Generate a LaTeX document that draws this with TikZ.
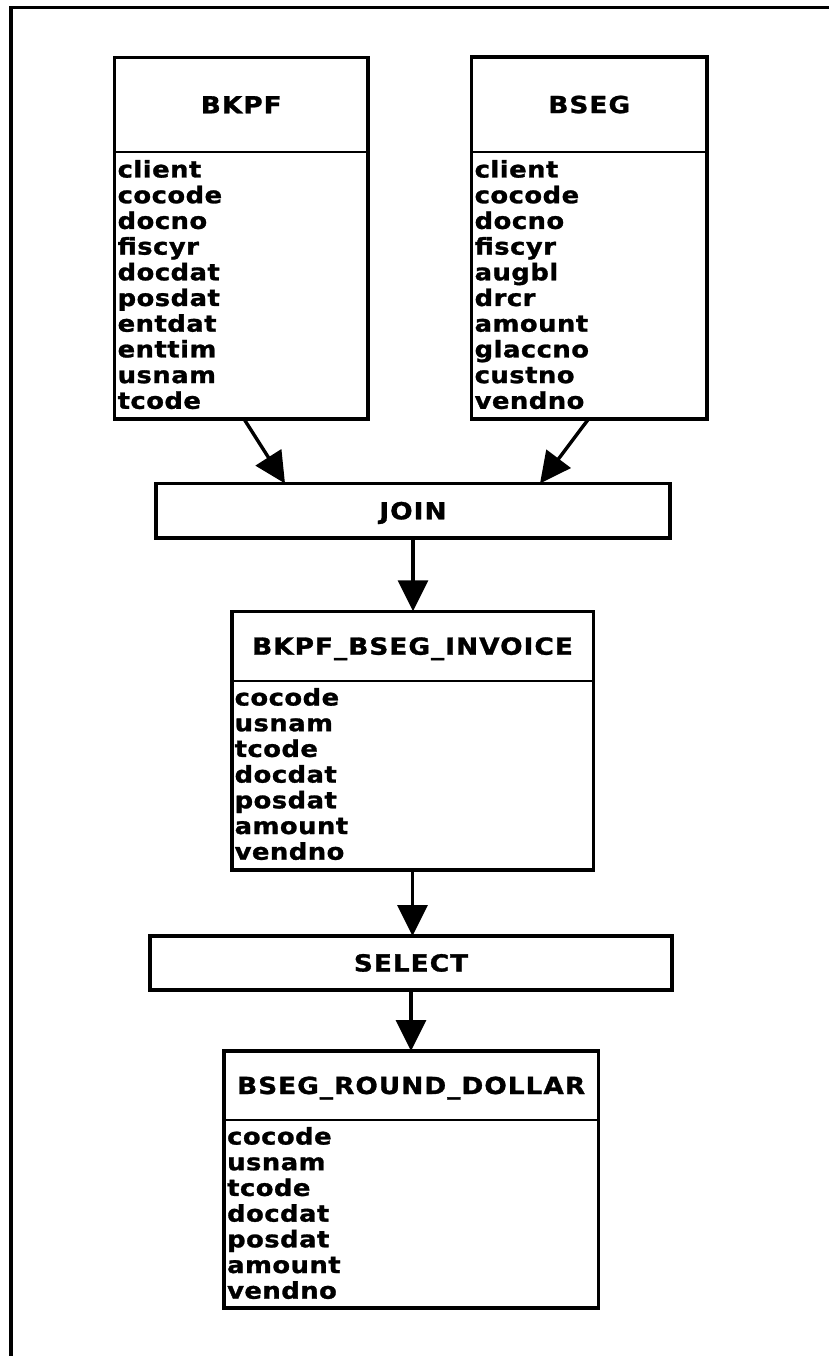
\documentclass[tikz,border=0pt]{standalone}
\usepackage{fontspec}
\usepackage{graphicx}
\setmainfont{DejaVu Sans}
\newfontfamily\titlefamily{DejaVu Sans}[LetterSpace=4, FakeBold=1.2]
\newfontfamily\fieldfamily{DejaVu Sans}[LetterSpace=2, FakeBold=1.2]
\usetikzlibrary{arrows.meta,calc}

% table and operator captions
\newcommand\tbltitle[1]{\scalebox{1.12}[1]{\titlefamily\bfseries\fontsize{23.5}{28}\selectfont #1}}
% column lists, one field per row (rows separated by \cr), fixed row pitch
\newcommand\tblfields[1]{\scalebox{1.12}[1]{\vtop{\fieldfamily\bfseries\fontsize{23}{25.7}\selectfont
  \lineskiplimit=-100pt\lineskip=0pt\halign{##\hfil\cr#1\crcr}}}}

\begin{document}
\begin{tikzpicture}[x=1pt,y=-1pt,
  tbl/.style={draw, line width=3.6pt, rectangle, inner sep=0pt, outer sep=0pt},
  sepline/.style={line width=1.6pt},
  flow/.style={line width=3.4pt, -{Triangle[length=31pt,width=30pt]}},
  frameline/.style={line width=3.4pt, line join=miter},
  caption/.style={anchor=base, inner sep=0pt},
  fields/.style={anchor=base west, inner sep=0pt}]

\fill[white] (0,0) rectangle (829,1356);
\useasboundingbox (0,0) rectangle (829,1356);

% page frame (top and left edges)
\draw[frameline] (829,7.7) -- (10.8,7.7) -- (10.8,1356);

% source tables
\node[tbl, minimum width=253.5pt, minimum height=361.5pt] (bkpf) at (241.25,238.25) {};
\node[tbl, minimum width=235.5pt, minimum height=362pt] (bseg) at (589.25,238) {};
\draw[sepline] (bkpf.west |- 0,152) -- (bkpf.east |- 0,152);
\draw[sepline] (bseg.west |- 0,152) -- (bseg.east |- 0,152);
\node[caption] (bkpfname) at (241.25,113.3) {\tbltitle{BKPF}};
\node[caption] (bsegname) at (589.25,113.1) {\tbltitle{BSEG}};
\node[fields] (bkpfcols) at (117.5,177.5) {\tblfields{client\cr cocode\cr docno\cr fiscyr\cr docdat\cr posdat\cr entdat\cr enttim\cr usnam\cr tcode}};
\node[fields] (bsegcols) at (474.5,177.5) {\tblfields{client\cr cocode\cr docno\cr fiscyr\cr augbl\cr drcr\cr amount\cr glaccno\cr custno\cr vendno}};

% join step
\node[tbl, minimum width=514pt, minimum height=54.5pt] (join) at (413,510.75) {};
\node[caption] (joinname) at (413,519.3) {\tbltitle{JOIN}};

% joined invoice table
\node[tbl, minimum width=361.6pt, minimum height=258.7pt] (inv) at (412.5,740.65) {};
\draw[sepline] (inv.west |- 0,681) -- (inv.east |- 0,681);
\node[caption] (invname) at (412.5,654.7) {\tbltitle{BKPF\_BSEG\_INVOICE}};
\node[fields] (invcols) at (234.5,705.5) {\tblfields{cocode\cr usnam\cr tcode\cr docdat\cr posdat\cr amount\cr vendno}};

% select step
\node[tbl, minimum width=522pt, minimum height=54pt] (select) at (411,963) {};
\node[caption] (selectname) at (411,971.5) {\tbltitle{SELECT}};

% result table
\node[tbl, minimum width=374.3pt, minimum height=257pt] (rd) at (411.15,1179.5) {};
\draw[sepline] (rd.west |- 0,1120) -- (rd.east |- 0,1120);
\node[caption] (rdname) at (411.15,1094) {\tbltitle{BSEG\_ROUND\_DOLLAR}};
\node[fields] (rdcols) at (227,1144.5) {\tblfields{cocode\cr usnam\cr tcode\cr docdat\cr posdat\cr amount\cr vendno}};

% data flow
\draw[flow] ($(bkpf.south west)+(129.5,0)$) -- ($(join.north west)+(129,0)$);
\draw[flow] ($(bseg.south west)+(117,0)$) -- ($(join.north west)+(384,0)$);
\draw[flow] (join.south) -- (join.south |- inv.north);
\draw[flow] (inv.south) -- (inv.south |- select.north);
\draw[flow] (select.south) -- (select.south |- rd.north);
\end{tikzpicture}
\end{document}
